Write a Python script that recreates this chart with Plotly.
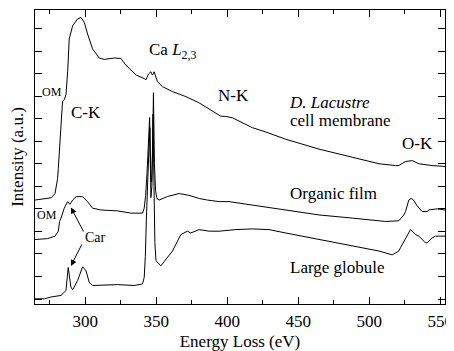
import plotly.graph_objects as go

# D. Lacustre cell membrane (top spectrum)
membrane_ev = [264.6, 276.0, 278.7, 280.5, 281.0, 282.9, 284.0, 285.2, 286.4, 287.6, 288.7, 291.1,
               294.6, 297.0, 299.3, 301.6, 305.1, 309.8, 313.4, 320.4, 325.1, 328.6, 333.3, 336.0,
               341.5, 342.7, 344.5, 346.2, 347.3, 348.5, 350.8, 354.4, 361.4, 370.8, 380.2, 389.5,
               395.4, 398.9, 403.6, 417.7, 427.1, 441.1, 464.6, 488.0, 506.8, 518.5, 520.8, 525.5,
               529.0, 530.2, 534.9, 539.0, 544.2, 551.3, 553.3]
membrane_y = [4.39, 4.49, 4.68, 5.34, 5.78, 8.04, 8.77, 8.84, 9.06, 10.08, 11.54, 12.12,
              12.42, 12.49, 12.27, 11.76, 11.10, 10.69, 10.63, 10.69, 10.67, 10.37, 10.08, 9.93,
              9.78, 9.72, 9.98, 10.08, 9.93, 10.08, 9.64, 9.42, 9.20, 8.98, 8.70, 8.33,
              8.11, 8.10, 8.04, 7.60, 7.41, 7.09, 6.65, 6.29, 6.00, 5.92, 5.92, 6.10,
              6.14, 6.14, 6.00, 5.95, 5.92, 5.89, 5.87]

# Organic film (middle spectrum)
film_ev = [264.6, 273.5, 278.7, 281.0, 281.9, 282.9, 285.2, 287.6, 289.2, 291.1, 293.5, 298.1,
           301.6, 305.1, 311.0, 322.7, 332.1, 339.2, 340.3, 341.5, 342.5, 343.5, 344.5, 345.3,
           346.0, 346.7, 347.4, 348.0, 348.7, 349.5, 350.5, 352.0, 358.0, 366.1, 373.0, 380.2,
           386.0, 394.2, 401.3, 417.7, 441.1, 464.6, 488.0, 511.5, 520.8, 524.3, 525.5, 527.8,
           529.5, 531.0, 533.5, 537.2, 540.7, 541.9, 547.7, 553.3]
film_y = [2.64, 2.68, 2.79, 3.01, 3.44, 3.59, 4.03, 4.32, 4.20, 4.39, 4.54, 4.54,
          4.32, 4.03, 3.95, 3.91, 3.81, 3.81, 3.81, 4.03, 4.60, 5.60, 6.80, 8.05,
          5.50, 5.20, 6.50, 9.15, 6.00, 4.80, 4.45, 4.39, 4.55, 4.68, 4.60, 4.46,
          4.39, 4.32, 4.32, 4.17, 3.95, 3.73, 3.59, 3.44, 3.47, 3.73, 3.88, 4.39,
          4.46, 4.40, 4.15, 3.88, 3.88, 3.95, 4.00, 3.95]

# Large globule (bottom spectrum)
globule_ev = [264.6, 271.2, 275.9, 282.9, 286.4, 288.0, 289.9, 291.1, 294.6, 298.1, 300.5, 302.8,
              305.1, 322.7, 334.5, 339.2, 340.3, 341.5, 342.3, 343.0, 343.8, 344.6, 345.5, 346.2,
              346.9, 347.7, 348.4, 349.0, 349.8, 350.8, 353.2, 361.4, 367.3, 371.9, 374.3, 380.2,
              387.2, 394.2, 406.0, 417.7, 429.4, 441.1, 452.8, 464.6, 488.0, 506.8, 516.1, 520.8,
              522.0, 525.5, 529.0, 532.6, 534.9, 539.6, 540.7, 544.2, 546.6, 551.3, 553.3]
globule_y = [0.01, 0.01, 0.09, 0.16, 0.38, 1.40, 0.53, 0.41, 0.82, 1.43, 1.26, 0.74,
             0.60, 0.64, 0.60, 0.67, 0.67, 0.96, 1.90, 3.50, 5.20, 6.30, 7.60, 4.50,
             5.00, 8.20, 5.00, 2.50, 1.70, 1.62, 1.47, 2.13, 2.86, 3.01, 2.93, 3.08,
             3.01, 3.01, 3.08, 3.11, 3.08, 2.93, 2.79, 2.64, 2.35, 2.13, 1.96, 2.13,
             2.28, 2.71, 3.08, 2.86, 2.79, 2.49, 2.49, 2.71, 2.79, 2.79, 2.79]

x_ticks = [300, 350, 400, 450, 500, 550]
y_ticks = list(range(0, 13))

FONT = "Liberation Serif"

fig = go.Figure()
for xs, ys, name in [(membrane_ev, membrane_y, "D. Lacustre cell membrane"),
                     (film_ev, film_y, "Organic film"),
                     (globule_ev, globule_y, "Large globule")]:
    fig.add_trace(go.Scatter(x=xs, y=ys, mode="lines", name=name,
                             line=dict(color="black", width=1), showlegend=False))

annots = [
    dict(x=300.5, y=8.27, text="C-K", size=17),
    dict(x=361.5, y=11.0, text="Ca <i>L</i><sub>2,3</sub>", size=17),
    dict(x=404.1, y=9.02, text="N-K", size=17),
    dict(x=534.2, y=6.91, text="O-K", size=17),
    dict(x=472.3, y=8.70, text="<i>D. Lacustre</i>", size=17),
    dict(x=480.0, y=7.93, text="cell membrane", size=17),
    dict(x=475.1, y=4.68, text="Organic film", size=17),
    dict(x=477.9, y=1.40, text="Large globule", size=17),
    dict(x=276.8, y=9.17, text="OM", size=12),
    dict(x=273.3, y=3.72, text="OM", size=12),
    dict(x=307.0, y=2.71, text="Car", size=14),
]
for a in annots:
    fig.add_annotation(x=a["x"], y=a["y"], text=a["text"], showarrow=False,
                       font=dict(family=FONT, size=a["size"], color="black"))

# arrows from "Car" label to the carbonyl peaks
fig.add_annotation(x=289.9, y=4.06, ax=299.3, ay=2.93, xref="x", yref="y", axref="x", ayref="y",
                   text="", showarrow=True, arrowhead=2, arrowsize=1.2, arrowwidth=1, arrowcolor="black")
fig.add_annotation(x=289.9, y=1.47, ax=298.1, ay=2.49, xref="x", yref="y", axref="x", ayref="y",
                   text="", showarrow=True, arrowhead=2, arrowsize=1.2, arrowwidth=1, arrowcolor="black")

# the page body carries an 8px margin, so the figure is sized 8px smaller
fig.update_layout(
    width=446, height=343,
    margin=dict(l=27, r=8, t=1, b=44),
    paper_bgcolor="white", plot_bgcolor="white",
    font=dict(family=FONT, size=17, color="black"),
)
fig.update_xaxes(range=[264.6, 553.3], tickvals=x_ticks, ticks="inside", ticklen=7, tickwidth=1,
                 tickcolor="black", mirror="ticks", showline=True, linecolor="black", linewidth=1,
                 showgrid=False, zeroline=False,
                 minor=dict(dtick=25, ticks="inside", ticklen=4, tickcolor="black"),
                 title=dict(text="Energy Loss (eV)", font=dict(size=17), standoff=7),
                 tickfont=dict(size=17), ticklabelstandoff=2, ticklabeloverflow="allow")
fig.update_yaxes(range=[-0.22, 12.82], tickvals=y_ticks, showticklabels=False, ticks="inside", ticklen=7,
                 tickwidth=1, tickcolor="black", mirror="ticks", showline=True, linecolor="black",
                 linewidth=1, showgrid=False, zeroline=False,
                 title=dict(text="Intensity (a.u.)", font=dict(size=17), standoff=10))

fig.write_html("out.html")
